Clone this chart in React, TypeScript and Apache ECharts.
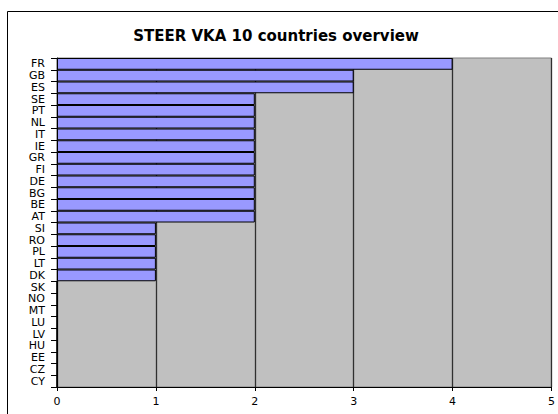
import React, { useEffect, useRef } from "react";
import * as echarts from "echarts";

const TITLE = "STEER VKA 10 countries overview";
const countries = [
  "FR", "GB", "ES", "SE", "PT", "NL", "IT", "IE", "GR", "FI", "DE", "BG", "BE", "AT",
  "SI", "RO", "PL", "LT", "DK", "SK", "NO", "MT", "LU", "LV", "HU", "EE", "CZ", "CY",
];
const values = [
  4, 3, 3, 2, 2, 2, 2, 2, 2, 2, 2, 2, 2, 2,
  1, 1, 1, 1, 1, 0, 0, 0, 0, 0, 0, 0, 0, 0,
];
const xMin = 0;
const xMax = 5;
const xInterval = 1;

export default function App() {
  const ref = useRef<HTMLDivElement>(null);
  useEffect(() => {
    if (!ref.current) return;
    const chart = echarts.init(ref.current, null, { renderer: "svg" });
    chart.setOption({
      animation: false,
      backgroundColor: "#ffffff",
      title: {
        text: TITLE,
        left: 271,
        top: 23,
        textAlign: "center",
        textStyle: {
          fontFamily: "DejaVu Sans",
          fontWeight: "bold",
          fontSize: 15,
          color: "#000000",
        },
      },
      graphic: [
        {
          type: "rect",
          shape: { x: 7.5, y: 11.5, width: 560, height: 410 },
          style: { fill: "none", stroke: "#000000", lineWidth: 1 },
          silent: true,
        },
      ],
      grid: {
        left: 57,
        right: 5,
        top: 58,
        bottom: 27,
        show: true,
        backgroundColor: "#c0c0c0",
        borderColor: "#808080",
        borderWidth: 1,
      },
      xAxis: {
        type: "value",
        min: xMin,
        max: xMax,
        interval: xInterval,
        axisLine: { show: true, lineStyle: { color: "#000000", width: 1 } },
        axisTick: { show: true, length: 4, lineStyle: { color: "#000000" } },
        splitLine: { show: true, lineStyle: { color: "#303030", width: 1.3 } },
        axisLabel: {
          margin: 9,
          fontFamily: "DejaVu Sans",
          fontSize: 11,
          color: "#000000",
        },
      },
      yAxis: {
        type: "category",
        data: countries,
        inverse: true,
        axisLine: { show: true, lineStyle: { color: "#000000", width: 1 } },
        axisTick: { show: true, length: 6, lineStyle: { color: "#000000" } },
        splitLine: { show: false },
        axisLabel: {
          margin: 12,
          interval: 0,
          fontFamily: "DejaVu Sans",
          fontSize: 11,
          color: "#000000",
        },
      },
      series: [
        {
          type: "bar",
          data: values,
          barCategoryGap: "0%",
          itemStyle: {
            color: "#9999ff",
            borderColor: "#000000",
            borderWidth: 1,
          },
        },
      ],
    });
    return () => chart.dispose();
  }, []);
  return (
    <div
      ref={ref}
      style={{ position: "absolute", left: 0, top: 0, width: 558, height: 414 }}
    />
  );
}
